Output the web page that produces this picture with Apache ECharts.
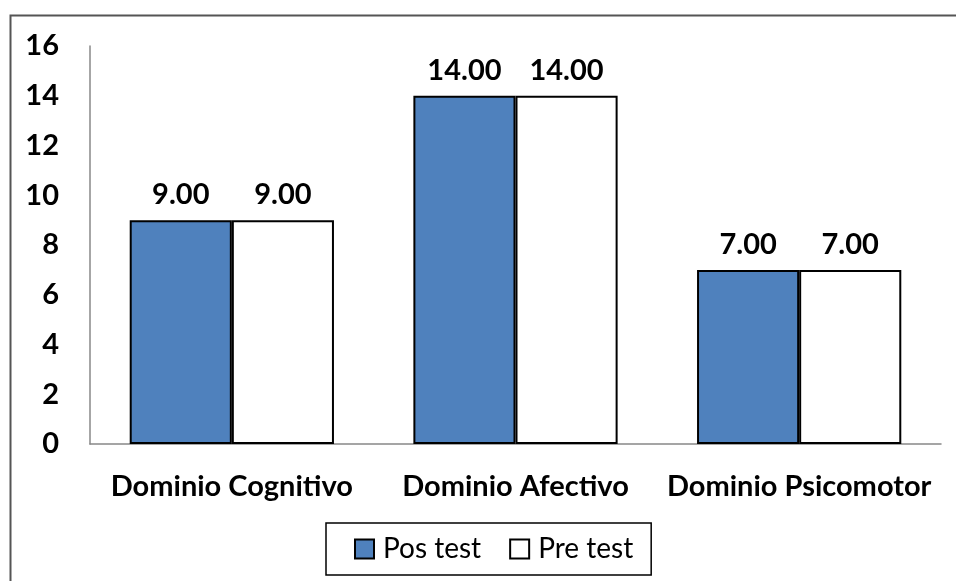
<!DOCTYPE html>
<html><head><meta charset="utf-8">
<script src="https://cdn.jsdelivr.net/npm/echarts@6/dist/echarts.min.js"></script>
<style>html,body{margin:0;padding:0;background:#fff}#c{width:956px;height:581px}</style>
</head><body><div id="c"></div>
<script>
const categories = ['Dominio Cognitivo', 'Dominio Afectivo', 'Dominio Psicomotor'];
const posTest = [9, 14, 7];
const preTest = [9, 14, 7];
const yTicks = {min: 0, max: 16, interval: 2};
const FONT = 'Lato, "Open Sans", sans-serif';

const chart = echarts.init(document.getElementById('c'));
const labelStyle = {show: true, position: 'top', distance: 11, color: '#000', fontWeight: 'bold', fontSize: 29, fontFamily: FONT, formatter: p => p.value.toFixed(2)};
chart.setOption({
  animation: false,
  graphic: [{type: 'rect', shape: {x: 10.5, y: 15.5, width: 1000, height: 1000}, style: {fill: 'none', stroke: '#555', lineWidth: 2}, z: 100}],
  grid: {left: 90, right: 15, top: 46, bottom: 137},
  legend: {
    bottom: 6, left: 326, itemWidth: 19, itemHeight: 19, itemGap: 28, icon: 'rect',
    borderColor: '#000', borderWidth: 1.5, padding: [12, 18, 12, 28],
    textStyle: {fontSize: 28, fontFamily: FONT, color: '#000', padding: [0, 0, 0, 4]},
    data: ['Pos test', 'Pre test']
  },
  xAxis: {
    type: 'category', data: categories,
    axisLine: {lineStyle: {color: '#888', width: 1.5}}, axisTick: {show: false},
    axisLabel: {interval: 0, hideOverlap: false, color: '#000', fontWeight: 'bold', fontSize: 29, fontFamily: FONT, margin: 28}
  },
  yAxis: {
    type: 'value', min: yTicks.min, max: yTicks.max, interval: yTicks.interval,
    axisLine: {show: true, lineStyle: {color: '#888', width: 1.5}}, axisTick: {show: false},
    splitLine: {show: false},
    axisLabel: {color: '#000', fontWeight: 'bold', fontSize: 29, fontFamily: FONT, margin: 31}
  },
  series: [
    {name: 'Pos test', type: 'bar', data: posTest, barWidth: '36%', barGap: '0%',
     itemStyle: {color: '#4F81BD', borderColor: '#000', borderWidth: 2}, label: labelStyle},
    {name: 'Pre test', type: 'bar', data: preTest, barWidth: '36%',
     itemStyle: {color: '#fff', borderColor: '#000', borderWidth: 2}, label: labelStyle}
  ]
});
</script></body></html>
